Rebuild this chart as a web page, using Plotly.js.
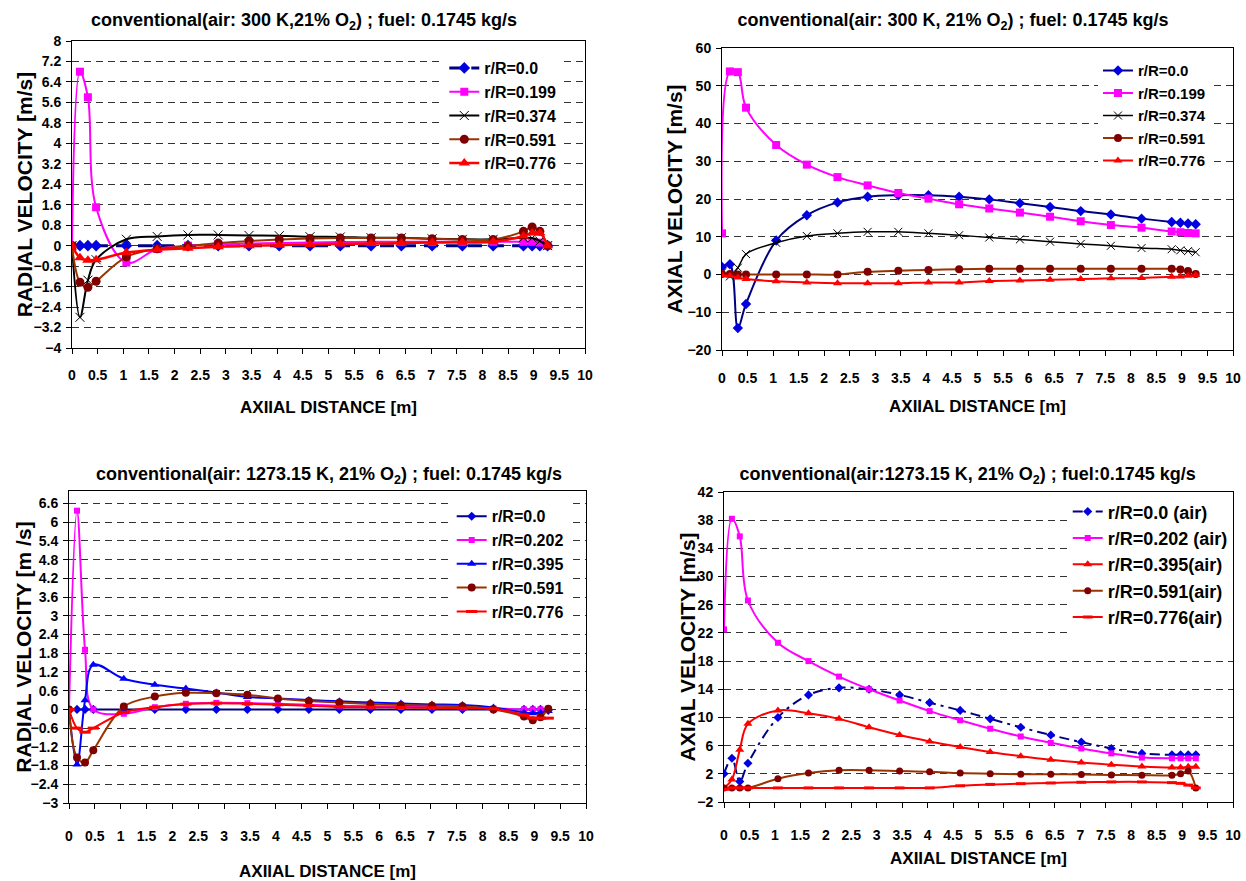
<!DOCTYPE html>
<html>
<head>
<meta charset="utf-8">
<script src="https://cdn.plot.ly/plotly-3.0.1.min.js"></script>
<style>
  html, body { margin: 0; padding: 0; background: #fff; }
  .panel { position: absolute; }
</style>
</head>
<body>
<div id="p1" class="panel" style="left:0px;top:0px;width:623px;height:440px;"></div>
<div id="p2" class="panel" style="left:623px;top:0px;width:623px;height:440px;"></div>
<div id="p3" class="panel" style="left:0px;top:440px;width:623px;height:441px;"></div>
<div id="p4" class="panel" style="left:623px;top:440px;width:623px;height:441px;"></div>
<script>
// ---------- shared axial positions [m] ----------
const axialX = [0, 0.155, 0.31, 0.47, 1.06, 1.66, 2.26, 2.85, 3.45, 4.04, 4.64, 5.23, 5.83, 6.42, 7.02, 7.61, 8.21, 8.8, 8.97, 9.12, 9.27];

// ---------- panel 1: radial velocity, air 300 K ----------
const p1Names = ['r/R=0.0', 'r/R=0.199', 'r/R=0.374', 'r/R=0.591', 'r/R=0.776'];
const p1_r000 = [0, 0, 0, 0, 0, 0, 0, 0, 0, 0, 0, 0, 0, 0, 0, 0, 0, 0, 0, 0, 0];
const p1_r199 = [0, 6.8, 5.8, 1.5, -0.66, -0.13, 0.0, 0.05, 0.08, 0.1, 0.12, 0.14, 0.15, 0.15, 0.15, 0.15, 0.15, 0.15, 0.15, 0.12, 0.0];
const p1_r374 = [0, -2.8, -1.35, -0.55, 0.25, 0.36, 0.42, 0.42, 0.4, 0.39, 0.35, 0.34, 0.31, 0.31, 0.27, 0.25, 0.25, 0.31, 0.3, 0.18, 0.0];
const p1_r591 = [0, -1.43, -1.63, -1.39, -0.44, -0.12, -0.02, 0.1, 0.18, 0.24, 0.28, 0.3, 0.3, 0.3, 0.27, 0.24, 0.24, 0.56, 0.73, 0.56, 0.0];
const p1_r776 = [0, -0.47, -0.57, -0.55, -0.27, -0.16, -0.1, -0.04, 0.0, 0.02, 0.05, 0.07, 0.08, 0.1, 0.12, 0.13, 0.15, 0.38, 0.5, 0.5, 0.0];

// ---------- panel 2: axial velocity, air 300 K ----------
const p2Names = ['r/R=0.0', 'r/R=0.199', 'r/R=0.374', 'r/R=0.591', 'r/R=0.776'];
const p2_r000 = [2.0, 2.7, -14.2, -7.8, 9.0, 15.7, 19.1, 20.6, 21.0, 21.0, 20.6, 19.9, 18.9, 17.9, 16.8, 15.9, 14.8, 13.9, 13.7, 13.5, 13.3];
const p2_r199 = [10.9, 53.8, 53.6, 44.2, 34.3, 29.1, 25.8, 23.6, 21.6, 20.1, 18.6, 17.5, 16.4, 15.3, 14.1, 13.1, 12.4, 11.4, 11.2, 11.0, 10.9];
const p2_r374 = [0.5, -0.5, 1.8, 5.4, 8.4, 10.2, 10.9, 11.3, 11.3, 10.9, 10.4, 9.8, 9.3, 8.7, 8.1, 7.6, 7.0, 6.7, 6.4, 6.2, 5.9];
const p2_r591 = [0.1, 0.1, 0.0, 0.0, 0.0, 0.0, 0.0, 0.7, 1.0, 1.2, 1.4, 1.5, 1.5, 1.5, 1.5, 1.5, 1.5, 1.5, 1.3, 0.9, 0.1];
const p2_r776 = [-0.2, -0.3, -0.8, -1.2, -1.8, -2.1, -2.3, -2.3, -2.3, -2.1, -2.1, -1.7, -1.6, -1.4, -1.2, -1.0, -0.9, -0.6, -0.5, -0.3, -0.1];

// ---------- panel 3: radial velocity, air 1273.15 K ----------
const p3Names = ['r/R=0.0', 'r/R=0.202', 'r/R=0.395', 'r/R=0.591', 'r/R=0.776'];
const p3_r000 = [0, 0, 0, 0, 0, 0, 0, 0, 0, 0, 0, 0, 0, 0, 0, 0, 0, 0, 0, 0, -0.03];
const p3_r202 = [0, 6.37, 1.91, 0.0, -0.14, 0.07, 0.18, 0.21, 0.2, 0.18, 0.15, 0.12, 0.1, 0.08, 0.07, 0.06, 0.03, 0.0, 0.0, 0.0, 0.0];
const p3_r395 = [0, -1.77, 0.29, 1.43, 0.98, 0.79, 0.67, 0.54, 0.4, 0.35, 0.3, 0.26, 0.22, 0.19, 0.16, 0.14, 0.06, -0.1, -0.12, -0.1, -0.05];
const p3_r591 = [0, -1.54, -1.7, -1.31, 0.09, 0.41, 0.53, 0.52, 0.47, 0.35, 0.27, 0.22, 0.17, 0.14, 0.12, 0.1, 0.0, -0.23, -0.35, -0.25, 0.02];
const p3_r776 = [0, -0.6, -0.73, -0.6, -0.1, 0.07, 0.17, 0.2, 0.18, 0.15, 0.12, 0.08, 0.07, 0.06, 0.05, 0.04, 0.02, -0.18, -0.28, -0.28, -0.28];

// ---------- panel 4: axial velocity, air 1273.15 K ----------
const p4Names = ['r/R=0.0 (air)', 'r/R=0.202 (air)', 'r/R=0.395(air)', 'r/R=0.591(air)', 'r/R=0.776(air)'];
const p4_r000 = [2.0, 4.2, 0.9, 3.5, 10.0, 13.2, 14.2, 14.0, 13.2, 12.1, 11.0, 9.8, 8.6, 7.5, 6.5, 5.6, 4.9, 4.7, 4.7, 4.7, 4.7];
const p4_r202 = [22.5, 38.2, 35.7, 26.6, 20.6, 18.0, 15.8, 14.0, 12.4, 10.9, 9.6, 8.4, 7.3, 6.4, 5.6, 4.9, 4.3, 4.2, 4.2, 4.2, 4.2];
const p4_r395 = [0.0, 1.2, 5.4, 9.1, 11.0, 10.6, 9.8, 8.6, 7.5, 6.6, 5.8, 5.1, 4.5, 4.0, 3.6, 3.3, 3.05, 2.9, 2.9, 3.0, 3.0];
const p4_r591 = [0.0, 0.0, 0.0, 0.0, 1.3, 2.1, 2.5, 2.5, 2.4, 2.3, 2.1, 2.0, 1.95, 1.95, 1.9, 1.85, 1.8, 1.8, 2.0, 2.4, 0.0];
const p4_r776 = [-0.2, 0.0, 0.0, 0.0, 0.0, 0.0, 0.0, 0.0, 0.0, 0.0, 0.3, 0.5, 0.6, 0.7, 0.8, 0.85, 0.85, 0.75, 0.65, 0.4, 0.0];

// ---------- tick and text ----------
const xTitle = 'AXIIAL DISTANCE [m]';
const FONT = 'Liberation Sans, Arial, Helvetica, sans-serif';

function trace(name, y, lineColor, markerColor, symbol, size, dash, lw, extraMarker) {
  const m = Object.assign({ symbol: symbol, size: size, color: markerColor, line: { width: 0 } }, extraMarker || {});
  return {
    x: axialX, y: y, name: name, type: 'scatter', mode: 'lines+markers',
    line: { color: lineColor, width: lw || 2, shape: 'spline', smoothing: 1, dash: dash || 'solid' },
    marker: m
  };
}

function layoutFor(o) {
  const pw = o.w - o.l - o.r, ph = o.h - o.t - o.b;
  return {
    width: o.w, height: o.h,
    margin: { l: o.l, r: o.r, t: o.t, b: o.b, pad: 0, autoexpand: false },
    paper_bgcolor: '#fff', plot_bgcolor: '#fff',
    font: { family: FONT, color: '#000' },
    showlegend: true,
    title: {
      text: o.title, font: { size: 18, weight: 'bold', family: FONT, color: '#000' },
      xref: 'container', yref: 'container', x: o.tx / o.w, y: 1 - o.ty / o.h, xanchor: 'center', yanchor: 'middle'
    },
    legend: {
      xref: 'paper', yref: 'paper', x: (o.lx - o.l) / pw, y: 1 - (o.ly - o.t) / ph, xanchor: 'left', yanchor: 'top',
      bgcolor: '#fff', borderwidth: 0, font: { size: o.lfs, weight: 'bold', family: FONT, color: '#000' },
      itemwidth: 30, tracegroupgap: 0
    },
    xaxis: {
      range: [0, 10], tick0: 0, dtick: 0.5, ticks: 'outside', ticklen: 5, tickcolor: '#000', tickwidth: 1,
      showline: true, linecolor: '#000', linewidth: 1, mirror: true, showgrid: false, zeroline: false,
      tickangle: 0, automargin: false,
      tickfont: { size: 14, weight: 'bold', family: FONT }, ticklabelstandoff: o.xts,
      title: { text: xTitle, font: { size: 17, weight: 'bold', family: FONT }, standoff: o.xtitleStand }
    },
    yaxis: {
      range: o.yr, tick0: o.y0, dtick: o.dy, ticks: 'outside', ticklen: 5, tickcolor: '#000', tickwidth: 1,
      showline: true, linecolor: '#000', linewidth: 1, mirror: true, automargin: false,
      showgrid: true, gridcolor: '#333', gridwidth: 1, griddash: '7px,5px', zeroline: false,
      tickfont: { size: 14, weight: 'bold', family: FONT }, ticklabelstandoff: 2,
      title: { text: o.ytitle, font: { size: 21, weight: 'bold', family: FONT }, standoff: 0 }
    }
  };
}

// nudge the y-axis title horizontally (px) after Plotly has placed it
function nudgeYTitle(gd, dx) {
  const t = gd.querySelector('.ytitle');
  if (!t) return;
  const tr = t.getAttribute('transform') || '';
  t.setAttribute('transform', 'translate(' + dx + ',0) ' + tr);
}

const NAVY = '#000080', BLUEM = '#0000e0', MAG = '#ff00ff', BROWN = '#993300', DRED = '#800000', RED = '#ff0000', BLUE = '#0000ff';
const cfg = { staticPlot: true, displayModeBar: false };

// Panel 1
Plotly.newPlot('p1', [
  trace(p1Names[0], p1_r000, NAVY, BLUEM, 'diamond', 9, '14px,8px', 3),
  trace(p1Names[1], p1_r199, MAG, MAG, 'square', 8),
  trace(p1Names[2], p1_r374, '#000', '#000', 'x-thin', 9, 'solid', 2, { line: { width: 1, color: '#000' } }),
  trace(p1Names[3], p1_r591, BROWN, DRED, 'circle', 9),
  trace(p1Names[4], p1_r776, RED, RED, 'triangle-up', 10, 'solid', 2.5)
], layoutFor({
  w: 623, h: 440, l: 72, r: 38.4, t: 41, b: 92,
  title: 'conventional(air: 300 K,21% O<sub>2</sub>) ; fuel: 0.1745 kg/s', tx: 304, ty: 20,
  lx: 444, ly: 51, lfs: 16, xts: 9, xtitleStand: 19,
  yr: [-4, 8], y0: -4, dy: 0.8, ytitle: 'RADIAL VELOCITY [m/s]'
}), cfg).then(gd => nudgeYTitle(gd, 5));

// Panel 2
Plotly.newPlot('p2', [
  trace(p2Names[0], p2_r000, NAVY, BLUEM, 'diamond', 8),
  trace(p2Names[1], p2_r199, MAG, MAG, 'square', 8),
  trace(p2Names[2], p2_r374, '#000', '#000', 'x-thin', 8, 'solid', 1.5, { line: { width: 1, color: '#000' } }),
  trace(p2Names[3], p2_r591, BROWN, DRED, 'circle', 8),
  trace(p2Names[4], p2_r776, RED, RED, 'triangle-up', 8)
], layoutFor({
  w: 623, h: 440, l: 98.5, r: 13.2, t: 47.7, b: 90,
  title: 'conventional(air: 300 K, 21% O<sub>2</sub>) ; fuel: 0.1745 kg/s', tx: 330, ty: 20,
  lx: 474.7, ly: 54, lfs: 15, xts: 10, xtitleStand: 15,
  yr: [-20, 60], y0: -20, dy: 10, ytitle: 'AXIAL VELOCITY [m/s]'
}), cfg).then(gd => nudgeYTitle(gd, 1));

// Panel 3
Plotly.newPlot('p3', [
  trace(p3Names[0], p3_r000, NAVY, BLUEM, 'diamond', 7),
  trace(p3Names[1], p3_r202, MAG, MAG, 'square', 6),
  trace(p3Names[2], p3_r395, BLUE, BLUE, 'triangle-up', 8),
  trace(p3Names[3], p3_r591, BROWN, DRED, 'circle', 8),
  trace(p3Names[4], p3_r776, RED, RED, 'line-ew', 8, 'solid', 2, { line: { width: 3, color: RED } })
], layoutFor({
  w: 623, h: 441, l: 68.8, r: 37.2, t: 50.7, b: 77.7,
  title: 'conventional(air: 1273.15 K, 21% O<sub>2</sub>) ; fuel: 0.1745 kg/s', tx: 329, ty: 34,
  lx: 451.5, ly: 59, lfs: 16, xts: 15, xtitleStand: 23,
  yr: [-3, 7], y0: -3, dy: 0.6, ytitle: 'RADIAL VELOCITY [m /s]'
}), cfg).then(gd => nudgeYTitle(gd, 7));

// Panel 4
Plotly.newPlot('p4', [
  trace(p4Names[0], p4_r000, NAVY, BLUEM, 'diamond', 7, '10px,5px,3px,5px', 2),
  trace(p4Names[1], p4_r202, MAG, MAG, 'square', 6),
  trace(p4Names[2], p4_r395, RED, RED, 'triangle-up', 8),
  trace(p4Names[3], p4_r591, BROWN, DRED, 'circle', 7),
  trace(p4Names[4], p4_r776, RED, RED, 'line-ew', 7, 'solid', 2, { line: { width: 3, color: RED } })
], layoutFor({
  w: 623, h: 441, l: 101, r: 13.2, t: 51.7, b: 78.7,
  title: 'conventional(air:1273.15 K, 21% O<sub>2</sub>) ; fuel:0.1745 kg/s', tx: 344.7, ty: 34,
  lx: 444.6, ly: 53, lfs: 18, xts: 15, xtitleStand: 10,
  yr: [-2, 42], y0: -2, dy: 4, ytitle: 'AXIAL VELOCITY [m/s]'
}), cfg).then(gd => nudgeYTitle(gd, 5));
</script>
</body>
</html>
